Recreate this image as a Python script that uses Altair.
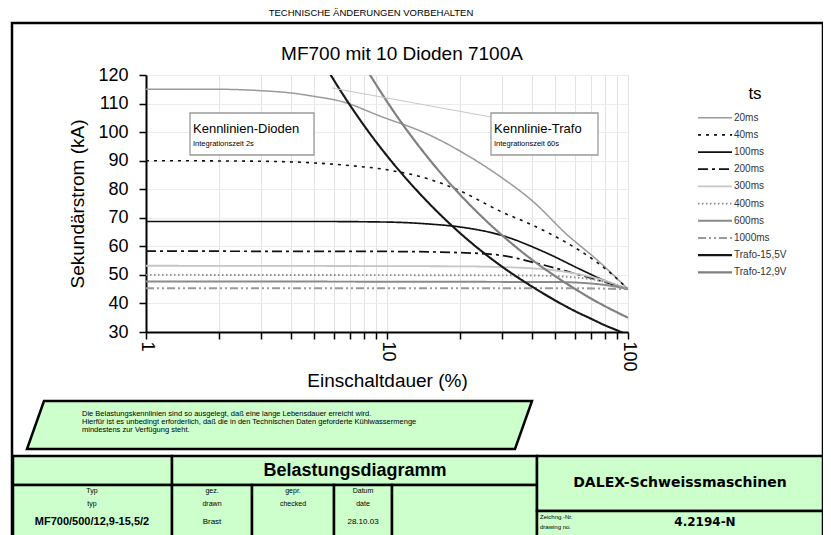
import altair as alt
import pandas as pd

# ---------------- data ----------------
SERIES = ["20ms", "40ms", "100ms", "200ms", "300ms", "400ms", "600ms",
          "1000ms", "Trafo-15,5V", "Trafo-12,9V"]

X_20MS = [1, 2, 3, 4, 5, 6.5, 9.3, 15, 22, 30, 40, 56, 75, 100]
Y_20MS = [115, 115, 114.5, 113.7, 112.5, 110.7, 105.7, 99, 91.4, 84, 76, 64, 55, 45]

X_40MS = [1, 3, 5, 7, 10, 15, 20, 30, 40, 55, 70, 85, 100]
Y_40MS = [90, 89.8, 89.2, 88.3, 86.8, 83.5, 79.5, 72, 67.5, 61.5, 56, 50.5, 45]

X_100MS = [1, 5, 10, 15, 20, 30, 45, 65, 80, 100]
Y_100MS = [68.7, 68.7, 68.5, 67.8, 66.8, 63.8, 58, 51.5, 48, 45]

X_200MS = [1, 10, 20, 30, 40, 60, 80, 100]
Y_200MS = [58.3, 58.2, 57.8, 56.8, 54.5, 50.5, 47.5, 45]

X_300MS = [1, 20, 40, 60, 80, 100]
Y_300MS = [53.2, 53, 52.3, 50.5, 48, 45]

X_400MS = [1, 40, 70, 100]
Y_400MS = [50, 49.8, 48.5, 45]

X_600MS = [1, 50, 80, 100]
Y_600MS = [47.7, 47.5, 46.5, 45]

X_1000MS = [1, 60, 100]
Y_1000MS = [45.3, 45.3, 45]

X_TRAFO155 = [5, 6, 8, 10, 15, 20, 30, 40, 50, 60, 70, 80, 90, 100]
Y_TRAFO155 = [129.7, 118.4, 102.5, 91.7, 74.9, 64.8, 52.9, 45.9, 41, 37.4, 34.7, 32.4, 30.6, 29]

X_TRAFO129 = [8, 9, 10, 15, 20, 30, 40, 50, 60, 70, 80, 90, 100]
Y_TRAFO129 = [123.7, 116.7, 110.7, 90.4, 78.3, 63.9, 55.3, 49.5, 45.2, 41.8, 39.1, 36.9, 35]

X_TICKS = [1, 2, 3, 4, 5, 6, 7, 8, 9, 10, 20, 30, 40, 50, 60, 70, 80, 90, 100]
Y_TICKS = [30, 40, 50, 60, 70, 80, 90, 100, 110, 120]

SERIES_XY = [(X_20MS, Y_20MS), (X_40MS, Y_40MS), (X_100MS, Y_100MS), (X_200MS, Y_200MS),
             (X_300MS, Y_300MS), (X_400MS, Y_400MS), (X_600MS, Y_600MS), (X_1000MS, Y_1000MS),
             (X_TRAFO155, Y_TRAFO155), (X_TRAFO129, Y_TRAFO129)]

rows = []
for name, (xs, ys) in zip(SERIES, SERIES_XY):
    for i, (xv, yv) in enumerate(zip(xs, ys)):
        rows.append({"series": name, "x": xv, "y": yv, "i": i})
df = pd.DataFrame(rows)

# ---------------- styles ----------------
COLORS = ["#9a9a9a", "#111111", "#111111", "#111111", "#c6c6c6", "#8c8c8c",
          "#8a8a8a", "#9a9a9a", "#161616", "#808080"]
DASHES = [[1, 0], [3, 5], [1, 0], [10, 4, 3, 4], [1, 0], [1.5, 2.5], [1, 0],
          [8, 3, 2, 3, 2, 3], [1, 0], [1, 0]]
WIDTHS = [1.5, 2.2, 2.0, 2.2, 1.3, 1.5, 1.8, 2.0, 2.6, 1.6]

FONT = "Liberation Sans"
GREEN = "#ccffcc"

# plot origin in page coordinates (page has an 8px margin)
OX, OY = 146, 75
PW, PH = 482, 257


def px(v):
    return v - OX


def py(v):
    return v - OY


one = pd.DataFrame({"k": [0]})


def rect(x1, y1, x2, y2, fill="transparent", stroke="black", sw=2.5):
    return alt.Chart(one).mark_rect(fill=fill, stroke=stroke, strokeWidth=sw).encode(
        x=alt.value(px(x1)), x2=alt.value(px(x2)), y=alt.value(py(y1)), y2=alt.value(py(y2)))


def text(s, x, y, size, weight="normal", align="center", font=FONT, baseline="middle"):
    return alt.Chart(one).mark_text(text=s, fontSize=size, fontWeight=weight, align=align,
                                    baseline=baseline, font=font, color="black").encode(
        x=alt.value(px(x)), y=alt.value(py(y)))


def seg(x1, y1, x2, y2, color="black", sw=1.0):
    return alt.Chart(one).mark_rule(color=color, strokeWidth=sw).encode(
        x=alt.value(px(x1)), x2=alt.value(px(x2)), y=alt.value(py(y1)), y2=alt.value(py(y2)))


color_scale = alt.Scale(domain=SERIES, range=COLORS)
dash_scale = alt.Scale(domain=SERIES, range=DASHES)
width_scale = alt.Scale(domain=SERIES, range=WIDTHS)

layers = []

# outer frame and header
layers.append(text("TECHNISCHE ÄNDERUNGEN VORBEHALTEN", 371, 13, 9.5))
layers.append(rect(12, 23, 823, 600))

# chart title
layers.append(text("MF700 mit 10 Dioden 7100A", 402, 54, 19))

# curves
lines = alt.Chart(df).mark_line(clip=True, interpolate="monotone").encode(
    x=alt.X("x:Q", scale=alt.Scale(type="log", domain=[1, 100]),
            axis=alt.Axis(values=X_TICKS,
                          labelExpr="(datum.value == 1 || datum.value == 10 || datum.value == 100) ? datum.label : ''",
                          labelAngle=90, labelAlign="left", labelBaseline="middle",
                          labelFontSize=18, labelFont=FONT, labelColor="black",
                          labelPadding=2, labelOverlap=False, labelFlush=False,
                          tickSize=7, tickColor="black", tickWidth=1.5,
                          domainColor="black", domainWidth=2,
                          grid=True, gridColor="#e3e3e3", gridWidth=1,
                          title="Einschaltdauer (%)", titleFontSize=19, titleFont=FONT,
                          titleFontWeight="normal", titleColor="black", titlePadding=0)),
    y=alt.Y("y:Q", scale=alt.Scale(domain=[30, 120]),
            axis=alt.Axis(values=Y_TICKS, labelFontSize=18, labelFont=FONT, labelColor="black",
                          labelPadding=11, tickSize=7, tickColor="black", tickWidth=1.5,
                          domainColor="black", domainWidth=2,
                          grid=True, gridColor="#ececec", gridWidth=1,
                          title="Sekundärstrom (kA)", titleFontSize=19, titleFont=FONT,
                          titleFontWeight="normal", titleColor="black", titlePadding=10)),
    color=alt.Color("series:N", scale=color_scale, legend=None),
    strokeDash=alt.StrokeDash("series:N", scale=dash_scale, legend=None),
    strokeWidth=alt.StrokeWidth("series:N", scale=width_scale, legend=None),
    order="i:Q",
)
layers.append(lines)

# callout leader and annotation boxes
layers.append(seg(332, 88, 491, 117, "#c8c8c8", 1.2))
layers.append(rect(190, 113, 314, 155, fill="white", stroke="#9a9a9a", sw=1.3))
layers.append(text("Kennlinien-Dioden", 193, 129, 13, align="left"))
layers.append(text("Integrationszeit 2s", 193, 144, 7.5, align="left"))
layers.append(rect(491, 113, 598, 155, fill="white", stroke="#9a9a9a", sw=1.3))
layers.append(text("Kennlinie-Trafo", 494, 129, 13, align="left"))
layers.append(text("Integrationszeit 60s", 494, 144, 7.5, align="left"))

# custom legend
leg = pd.DataFrame({"series": SERIES})
leg_y = alt.Y("series:N", scale=alt.Scale(type="point", domain=SERIES,
                                          range=[py(117.7), py(272.3)], padding=0), axis=None)
layers.append(text("ts", 755, 94, 17))
layers.append(alt.Chart(leg).mark_rule().encode(
    x=alt.value(px(698)), x2=alt.value(px(732)), y=leg_y,
    color=alt.Color("series:N", scale=color_scale, legend=None),
    strokeDash=alt.StrokeDash("series:N", scale=dash_scale, legend=None),
    strokeWidth=alt.StrokeWidth("series:N", scale=width_scale, legend=None)))
layers.append(alt.Chart(leg).mark_text(align="left", baseline="middle", fontSize=10,
                                       font=FONT, color="#333333").encode(
    x=alt.value(px(734)), y=leg_y, text="series:N"))

# note parallelogram
para = pd.DataFrame({"py": [py(401), py(449)], "pxa": [px(44), px(27)], "pxb": [px(532), px(515)]})
layers.append(alt.Chart(para).mark_area(orient="horizontal", fill=GREEN, stroke="black",
                                        strokeWidth=2.5).encode(
    y=alt.Y("py:Q", scale=None, axis=None),
    x=alt.X("pxa:Q", scale=None, axis=None),
    x2="pxb:Q"))
layers.append(text("Die Belastungskennlinien sind so ausgelegt, daß eine lange Lebensdauer erreicht wird.",
                   82, 414, 7.5, align="left"))
layers.append(text("Hierfür ist es unbedingt erforderlich, daß die in den Technischen Daten geforderte Kühlwassermenge",
                   82, 422, 7.5, align="left"))
layers.append(text("mindestens zur Verfügung steht.", 82, 430, 7.5, align="left"))

# title block
for (x1, y1, x2, y2) in [(13, 456, 172, 485), (172, 456, 537, 485),
                         (13, 485, 172, 560), (172, 485, 252, 560), (252, 485, 334, 560),
                         (334, 485, 392, 560), (392, 485, 537, 560),
                         (537, 456, 823, 511), (537, 511, 823, 560)]:
    layers.append(rect(x1, y1, x2, y2, fill=GREEN))

layers.append(text("Belastungsdiagramm", 355, 471, 18, weight="bold"))
layers.append(text("Typ", 92, 491, 7))
layers.append(text("typ", 92, 504, 7))
layers.append(text("MF700/500/12,9-15,5/2", 92, 522, 11, weight="bold"))
layers.append(text("gez.", 212, 491, 7))
layers.append(text("drawn", 212, 504, 7))
layers.append(text("Brast", 212, 522, 8))
layers.append(text("gepr.", 293, 491, 7))
layers.append(text("checked", 293, 504, 7))
layers.append(text("Datum", 363, 491, 7))
layers.append(text("date", 363, 504, 7))
layers.append(text("28.10.03", 363, 522, 8))
layers.append(text("DALEX-Schweissmaschinen", 680, 483, 14, weight="bold", font="DejaVu Sans"))
layers.append(text("Zeichng.-Nr.", 540, 517, 6, align="left"))
layers.append(text("drawing no.", 540, 527, 6, align="left"))
layers.append(text("4.2194-N", 705, 522, 12, weight="bold", font="DejaVu Sans"))

chart = alt.layer(*layers).resolve_scale(x="independent", y="independent").properties(
    width=PW, height=PH,
    padding={"left": OX - 8, "top": OY - 8, "right": 823 - OX - PW, "bottom": 527 - (OY - 8) - PH},
    autosize=alt.AutoSizeParams(type="none"),
    background="white",
).configure_view(stroke="#b5b5b5", strokeWidth=1)

chart.save("out.html", embed_options={"renderer": "svg", "actions": False})
